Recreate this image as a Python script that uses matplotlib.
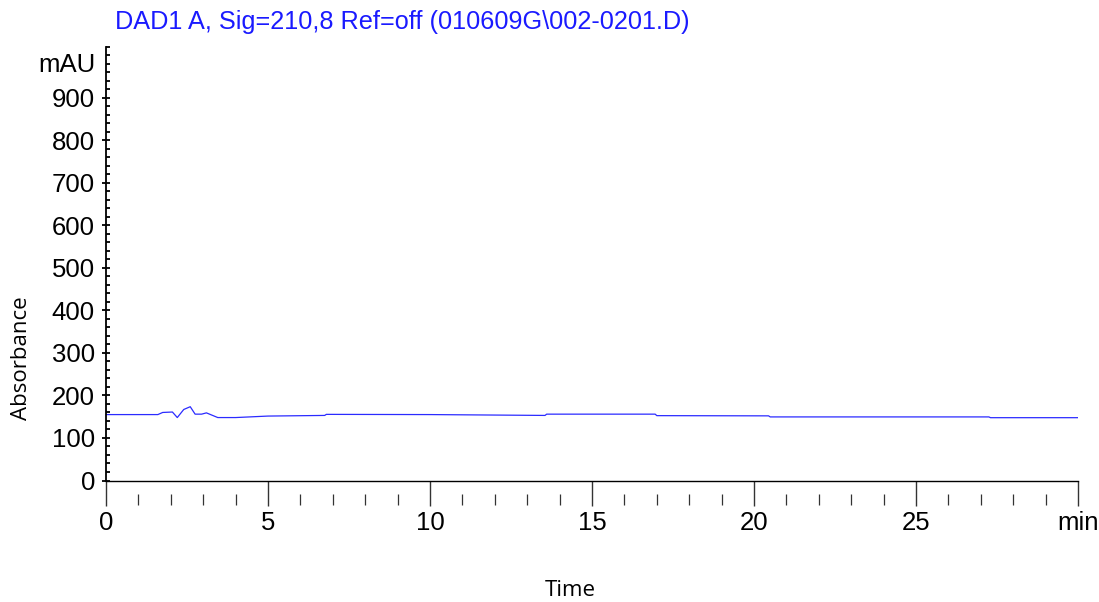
import numpy as np
import matplotlib
matplotlib.use("Agg")
import matplotlib.pyplot as plt
from matplotlib.ticker import MultipleLocator, FixedLocator
import matplotlib.transforms as mtransforms

# Chromatogram trace (min, mAU)
time_min = [0.0, 1.6, 1.75, 2.05, 2.2, 2.4, 2.6, 2.75, 2.95, 3.1, 3.45, 4.0,
            5.0, 6.75, 6.8, 10.0, 13.55, 13.6, 16.95, 17.0, 20.45, 20.5,
            25.0, 27.25, 27.3, 30.0]
signal_mau = [155, 155, 160, 161, 148, 167, 173.5, 156, 156, 159, 148, 148,
              151.5, 153, 155.5, 155, 153, 156, 156, 152.5, 152, 149.5,
              149.5, 149.5, 147.7, 147.7]

x_major = [0, 5, 10, 15, 20, 25, 30]
x_labels = ["0", "5", "10", "15", "20", "25", "min"]
x_minor = [m for m in range(1, 30) if m % 5 != 0]
y_major = list(range(0, 1000, 100))

title = "DAD1 A, Sig=210,8 Ref=off (010609G\\002-0201.D)"

plt.rcParams["font.family"] = ["Liberation Sans", "DejaVu Sans"]

fig = plt.figure(figsize=(10.99, 6.02), dpi=100)
ax = fig.add_axes([106 / 1099, 1 - 480.5 / 602, (1078 - 106) / 1099, (480.5 - 46.7) / 602])

ax.plot(time_min, signal_mau, color="#2b2bff", lw=0.9)

ax.set_xlim(0, 30)
ax.set_ylim(0, 1020)

for s in ["top", "right"]:
    ax.spines[s].set_visible(False)
ax.spines["left"].set_linewidth(1.3)
ax.spines["bottom"].set_linewidth(1.0)

ax.set_xticks(x_major)
ax.set_xticklabels(x_labels, fontsize=18.5)
ax.tick_params(axis="x", which="major", direction="out", length=18, width=1.0,
               pad=4, color="#333333")

ax.set_yticks(y_major)
ax.set_yticklabels([str(v) for v in y_major], fontsize=18.5)
ax.yaxis.set_minor_locator(MultipleLocator(20))
ax.tick_params(axis="y", which="major", direction="inout", length=6, width=1.3, pad=5)
ax.tick_params(axis="y", which="minor", direction="in", length=3, width=1.3)

# detached minor ticks below the time axis
sec = ax.secondary_xaxis(location=-0.032)
sec.spines["bottom"].set_visible(False)
sec.xaxis.set_major_locator(FixedLocator(x_minor))
sec.tick_params(axis="x", direction="out", length=8, width=0.9, color="#333333",
                labelbottom=False)

trans = mtransforms.blended_transform_factory(ax.transAxes, ax.transData)
ax.text(-0.0105, 978, "mAU", transform=trans, ha="right", va="center", fontsize=18.5)

fig.text(115 / 1099, 1 - 22 / 602, title, color="#1a1aff", fontsize=18.2,
         ha="left", va="center")
fig.text(22 / 1099, 1 - 358 / 602, "Absorbance", rotation=90, ha="center",
         va="center", fontsize=16, family=["Open Sans", "DejaVu Sans"])
fig.text(570 / 1099, 1 - 590 / 602, "Time", ha="center", va="center",
         fontsize=16, family=["Open Sans", "DejaVu Sans"])

fig.savefig("out.png", dpi=100)
